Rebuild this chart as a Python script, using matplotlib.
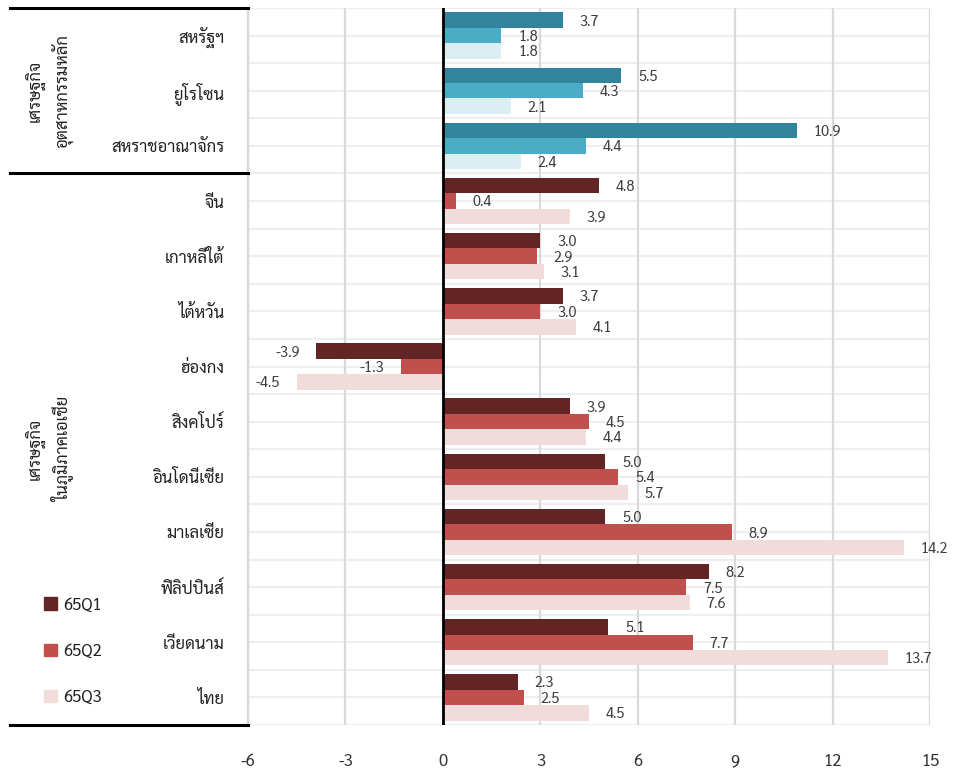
import numpy as np
import matplotlib
matplotlib.use("Agg")
import matplotlib.pyplot as plt
import matplotlib.patches as mpatches
import matplotlib.transforms as mtransforms

plt.rcParams["font.family"] = ["Sarabun", "DejaVu Sans"]

# ── données ────────────────────────────────────────────────────────────────
pays = ["สหรัฐฯ", "ยูโรโซน", "สหราชอาณาจักร",
        "จีน", "เกาหลีใต้", "ไต้หวัน", "ฮ่องกง", "สิงคโปร์",
        "อินโดนีเซีย", "มาเลเซีย", "ฟิลิปปินส์", "เวียดนาม", "ไทย"]
series = ["65Q1", "65Q2", "65Q3"]
q1 = [3.7, 5.5, 10.9, 4.8, 3.0, 3.7, -3.9, 3.9, 5.0, 5.0, 8.2, 5.1, 2.3]
q2 = [1.8, 4.3, 4.4, 0.4, 2.9, 3.0, -1.3, 4.5, 5.4, 8.9, 7.5, 7.7, 2.5]
q3 = [1.8, 2.1, 2.4, 3.9, 3.1, 4.1, -4.5, 4.4, 5.7, 14.2, 7.6, 13.7, 4.5]
groupes = ["เศรษฐกิจ\nอุตสาหกรรมหลัก", "เศรษฐกิจ\nในภูมิภาคเอเชีย"]
n_avance = 3   # nb de pays du premier groupe
xticks = [-6, -3, 0, 3, 6, 9, 12, 15]

couleurs_avance = ["#31849B", "#4BACC6", "#DAEEF3"]
couleurs_asie = ["#632523", "#C0504D", "#F2DCDB"]

# ── figure ─────────────────────────────────────────────────────────────────
fig = plt.figure(figsize=(9.55, 7.68), dpi=100)
ax = fig.add_axes([248 / 955, 1 - 725 / 768, 682 / 955, 717 / 768])

y = np.arange(len(pays))
h = 0.28
valeurs = [q1, q2, q3]
for j, vals in enumerate(valeurs):
    cols = [couleurs_avance[j] if i < n_avance else couleurs_asie[j]
            for i in range(len(pays))]
    pos = y + (j - 1) * h
    ax.barh(pos, vals, height=h, color=cols, zorder=3)
    for yi, v in zip(pos, vals):
        ax.annotate(f"{v:.1f}", (v, yi),
                    xytext=(12 if v >= 0 else -12, -1), textcoords="offset points",
                    ha="left" if v >= 0 else "right", va="center",
                    fontsize=10.5, color="#404040", zorder=4)

ax.set_xlim(-6, 15)
ax.set_ylim(len(pays) - 0.5, -0.5)
ax.set_xticks(xticks)
ax.set_xticklabels([str(t) for t in xticks], fontsize=12, color="#333333")
ax.set_yticks(y)
ax.set_yticklabels(pays, fontsize=12, color="#222222")
ax.tick_params(axis="both", which="both", length=0)
ax.tick_params(axis="y", pad=17)
ax.tick_params(axis="x", pad=20)

# quadrillage : verticales tous les 3, horizontales toutes les demi-catégories
ax.grid(axis="x", color="#D9D9D9", lw=1.6, zorder=0)
for yl in np.arange(-0.5, len(pays), 0.5):
    ax.axhline(yl, color="#EEEEEE", lw=1.6, zorder=0)
ax.axvline(0, color="black", lw=2, zorder=5)

for s in ["top", "right", "bottom"]:
    ax.spines[s].set_visible(False)
ax.spines["left"].set_color("#D9D9D9")
ax.spines["left"].set_linewidth(1.6)

# ── tableau de catégories à gauche ────────────────────────────────────────
trans = mtransforms.blended_transform_factory(ax.transAxes, ax.transData)
x_gauche = (10 - 248) / 682
for yl in [-0.5, n_avance - 0.5, len(pays) - 0.5]:
    ax.plot([x_gauche, 0], [yl, yl], color="black", lw=2.2,
            transform=trans, clip_on=False, zorder=6)

centres = [(n_avance - 1) / 2, (n_avance + len(pays) - 1) / 2]
for txt, yc in zip(groupes, centres):
    ax.text((50 - 248) / 682, yc, txt, transform=trans, rotation=90,
            ha="center", va="center", multialignment="center",
            fontsize=12, color="#222222", linespacing=1.35)

# ── légende ────────────────────────────────────────────────────────────────
handles = [mpatches.Patch(color=c, label=s) for c, s in zip(couleurs_asie, series)]
fig.legend(handles=handles, loc="upper left", bbox_to_anchor=(36 / 955, 1 - 588 / 768),
           frameon=False, fontsize=12, handlelength=0.75, handleheight=0.75,
           handletextpad=0.4, labelspacing=1.75, borderpad=0, labelcolor="#222222")

fig.savefig("out.png", dpi=100)
